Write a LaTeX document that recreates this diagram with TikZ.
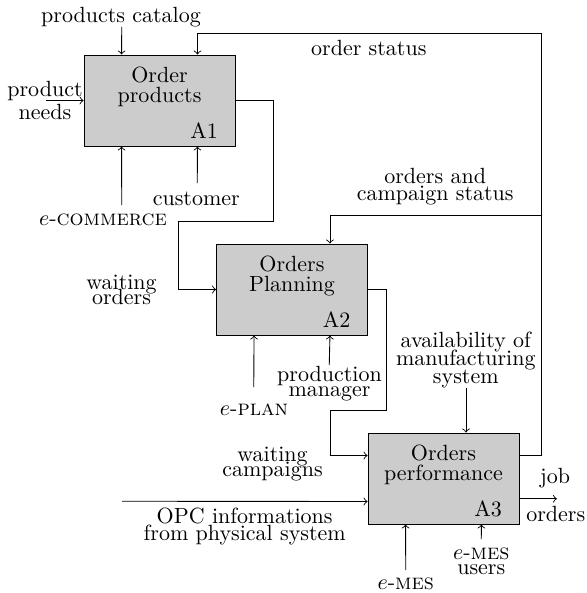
\documentclass[tikz,border=0pt]{standalone}
\usetikzlibrary{calc}
\begin{document}
\begin{tikzpicture}[x=0.4545pt,y=-0.4545pt,
  box/.style={draw, fill=gray!40, minimum width=68.6pt, minimum height=41.4pt, inner sep=0pt},
  lbl/.style={inner sep=0pt, align=center},
  flow/.style={->}]
\useasboundingbox (0,0) rectangle (587,593);

% activity boxes
\node[box] (a1) at (159.5,100.5) {};
\node[box] (a2) at (292,289.5) {};
\node[box] (a3) at (443.5,478.5) {};

% titles and numbers
\node[lbl] (t1) at ($(a1.center)+(0,-13.5)$) {Order\\[-3.1pt]products};
\node[lbl] (t2) at ($(a2.center)+(0,-13.5)$) {Orders\\[-3.1pt]Planning};
\node[lbl] (t3) at ($(a3.center)+(0,-13.5)$) {Orders\\[-3.1pt]performance};
\node[lbl, anchor=base east] (n1) at ($(a1.south east)+(-17,-7.5)$) {A1};
\node[lbl, anchor=base east] (n2) at ($(a2.south east)+(-17,-7.5)$) {A2};
\node[lbl, anchor=base east] (n3) at ($(a3.south east)+(-17,-7.5)$) {A3};

% attachment points on the box sides
\foreach \b in {a1,a2,a3}{
  \coordinate (\b tl) at ($(\b.north west)!0.25!(\b.north east)$);
  \coordinate (\b tr) at ($(\b.north west)!0.75!(\b.north east)$);
  \coordinate (\b bl) at ($(\b.south west)!0.25!(\b.south east)$);
  \coordinate (\b br) at ($(\b.south west)!0.75!(\b.south east)$);
}
\coordinate (a3lu) at ($(a3.north west)!0.25!(a3.south west)$);
\coordinate (a3ld) at ($(a3.north west)!0.75!(a3.south west)$);
\coordinate (a3ru) at ($(a3.north east)!0.25!(a3.south east)$);
\coordinate (a3job) at ($(a3.north east)!0.72!(a3.south east)$);

% free ends and bends
\coordinate (pcS) at (121.75,27);
\coordinate (pnS) at (46,100.5);
\coordinate (ecS) at (121.75,205);
\coordinate (cuS) at (197.25,183);
\coordinate (fbTop) at (541,33);
\coordinate (fbMid) at (541,215);
\coordinate (o1a) at (273,221);
\coordinate (o1b) at (178,221);
\coordinate (epS) at (253.75,387);
\coordinate (pmS) at (329.25,365);
\coordinate (o2a) at (386,410);
\coordinate (o2b) at (330,410);
\coordinate (avS) at (466,388);
\coordinate (opS) at (122,501.25);
\coordinate (emS) at (405.75,570);
\coordinate (euS) at (481.25,539);
\coordinate (jbE) at ($(a3job)+(37.5,0)$);

% connectors
\draw[flow] (pcS) -- (a1tl);
\draw[flow] (pnS) -- (a1.west);
\draw[flow] (ecS) -- (a1bl);
\draw[flow] (cuS) -- (a1br);
\draw[flow] (a3ru) -| (fbTop) -| (a1tr);
\draw[flow] (fbMid) -| (a2tr);
\draw[flow] (a1.east) -| (o1a) -- (o1b) |- (a2.west);
\draw[flow] (epS) -- (a2bl);
\draw[flow] (pmS) -- (a2br);
\draw[flow] (a2.east) -| (o2a) -- (o2b) |- (a3lu);
\draw[flow] (avS) -- (avS |- a3.north);
\draw[flow] (opS) -- (a3ld);
\draw[flow] (emS) -- (a3bl);
\draw[flow] (euS) -- (a3br);
\draw[flow] (a3job) -- (jbE);

% labels
\node[lbl, anchor=base] (lpc) at (121,23) {products catalog};
\node[lbl, anchor=base] (los) at (368.8,56) {order status};
\node[lbl] (lpn) at (45,100.5) {product\\[-1.9pt]needs};
\node[lbl, anchor=base] (lcu) at (196.3,205) {customer};
\node[lbl, anchor=base] (lec) at (103,225.7) {$e$-\textsc{commerce}};
\node[lbl] (lwo) at (121.5,289.8) {waiting\\[-4.9pt]orders};
\node[lbl] (lcs) at (435.2,187) {orders and\\[-4.3pt]campaign status};
\node[lbl, anchor=base] (lep) at (254,415) {$e$-\textsc{plan}};
\node[lbl] (lpm) at (329.5,383.7) {production\\[-5.2pt]manager};
\node[lbl] (lav) at (465.8,360.1) {availability of\\[-3.7pt]manufacturing\\[-3.7pt]system};
\node[lbl] (lwc) at (272.5,464) {waiting\\[-5.2pt]campaigns};
\node[lbl] (lop) at (244.7,526.5) {OPC informations\\[-4.7pt]from physical system};
\node[lbl, anchor=base] (lem) at (405.8,589) {$e$-\textsc{mes}};
\node[lbl] (leu) at (481.3,561) {$e$-\textsc{mes}\\[-5.2pt]users};
\node[lbl, anchor=base] (ljb) at (555,483) {job};
\node[lbl, anchor=base] (lor) at (555.8,521.7) {orders};
\end{tikzpicture}
\end{document}
